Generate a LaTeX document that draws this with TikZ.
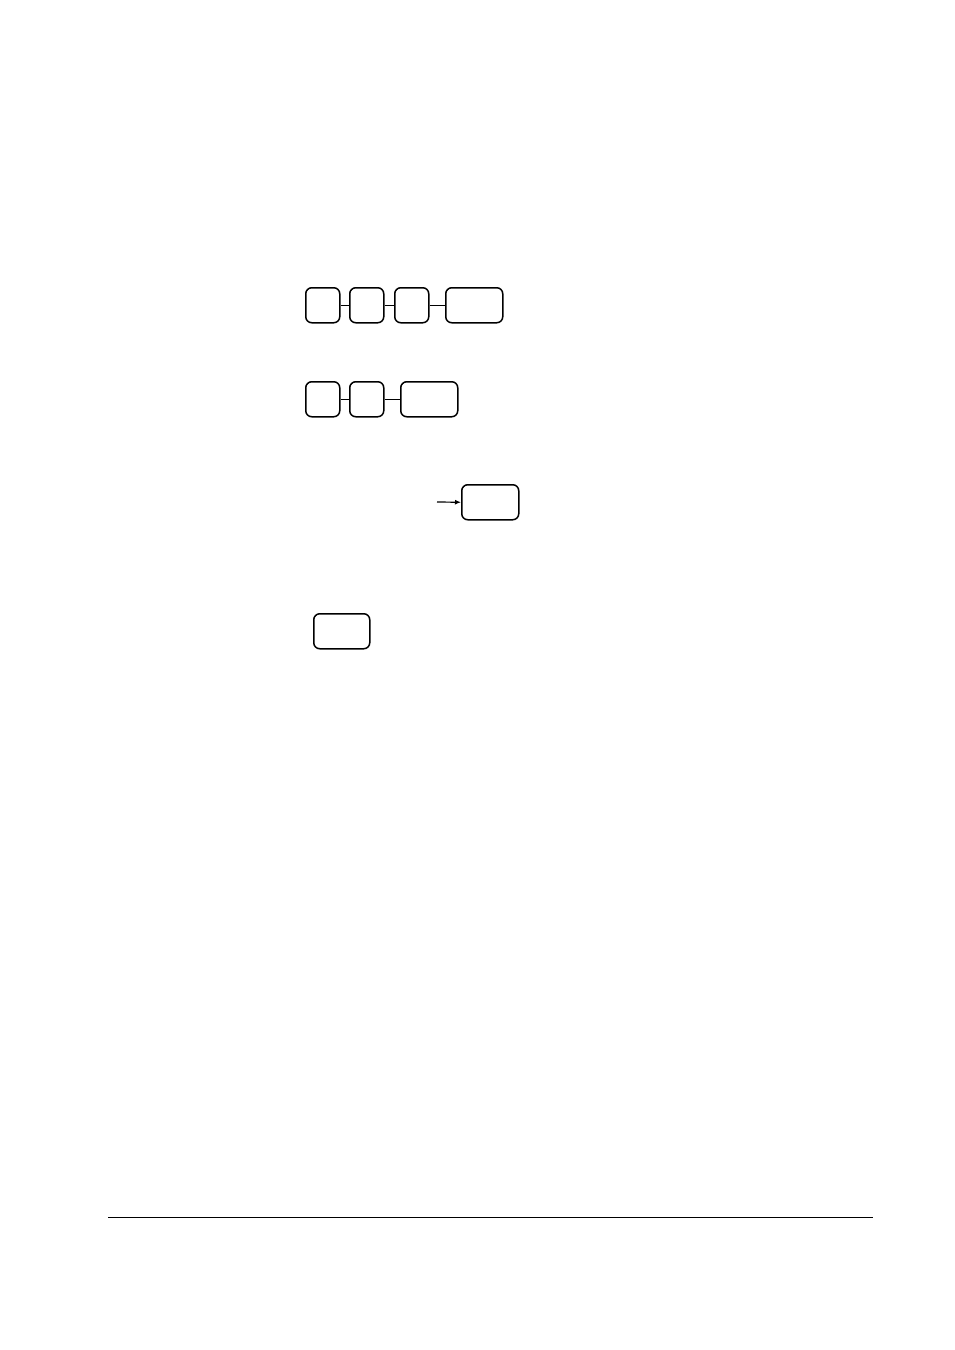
\documentclass[tikz,border=0pt]{standalone}
\usetikzlibrary{arrows.meta}

\newcommand*\keyheight{35pt}
\newcommand*\narrowkey{34pt}
\newcommand*\widekey{57pt}
\tikzset{key/.style={
    draw,
    line width=1.5pt,
    rectangle,
    rounded corners=6pt,
    anchor=north west,
    inner sep=0pt,
    minimum width=#1,
    minimum height=\keyheight
},
link/.style={line width=1.5pt}}

\begin{document}
\begin{tikzpicture}[x=1pt,y=-1pt]

    % Page size.
    \useasboundingbox (0,0) rectangle (954,1350);

    % First sequence.
    \node[key=\narrowkey] (a1) at (305,287) {};
    \node[key=\narrowkey] (a2) at (349,287) {};
    \node[key=\narrowkey] (a3) at (394,287) {};
    \node[key=\widekey]   (a4) at (445,287) {};
    \draw[link] (a1.east) -- (a2.west);
    \draw[link] (a2.east) -- (a3.west);
    \draw[link] (a3.east) -- (a4.west);

    % Second sequence.
    \node[key=\narrowkey] (b1) at (305,381) {};
    \node[key=\narrowkey] (b2) at (349,381) {};
    \node[key=\widekey]   (b3) at (400,381) {};
    \draw[link] (b1.east) -- (b2.west);
    \draw[link] (b2.east) -- (b3.west);

    % Arrow into a single key.
    \node[key=\widekey] (c1) at (461,484) {};
    \coordinate (c0) at (437,502);
    \draw[line width=1.2pt,-{Latex[length=6pt,width=5pt]}] (c0) -- (c1.west);

    % Lone key.
    \node[key=56pt] (d1) at (313,613) {};

    % Footer rule.
    \coordinate (rl) at (108,1217);
    \coordinate (rr) at (873,1217);
    \draw[line width=1pt] (rl) -- (rr);

\end{tikzpicture}
\end{document}
